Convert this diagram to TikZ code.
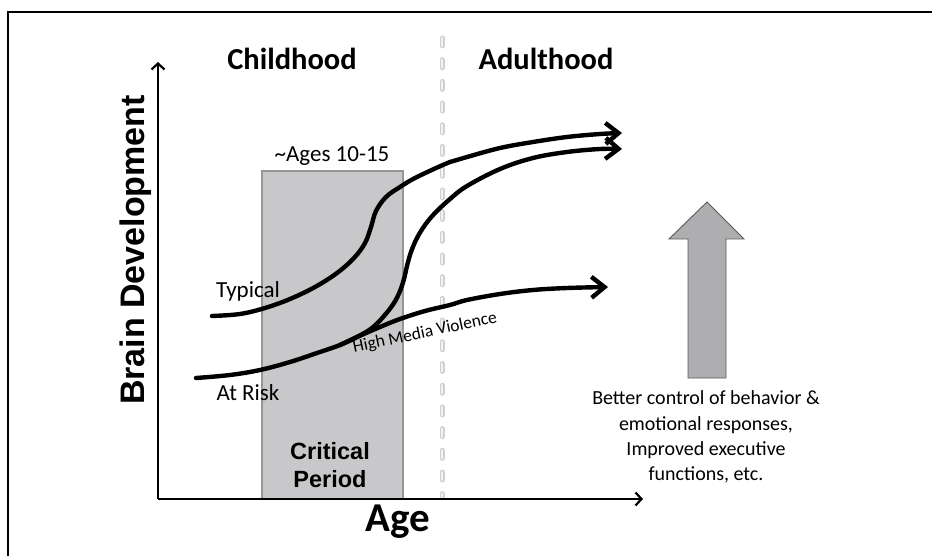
\documentclass[tikz,border=0pt]{standalone}
\usepackage{fontspec}
\setmainfont{Carlito}
\newfontfamily\arialf{Liberation Sans}
\usetikzlibrary{arrows.meta}
\definecolor{rectgray}{RGB}{200,200,203}
\definecolor{rectedge}{RGB}{150,150,152}
\definecolor{arrowgray}{RGB}{174,174,177}
\definecolor{dashgray}{RGB}{208,208,210}
\begin{document}
\begin{tikzpicture}[x=1pt,y=-1pt,
  curve/.style={line width=4.4pt, line cap=round,
    -{Straight Barb[length=13pt,width=21pt,line width=4.4pt]}},
  axis/.style={line width=2.2pt, -{Straight Barb[length=6pt,width=13pt,line width=2.2pt]}},
  lbl/.style={inner sep=0pt, font=\fontsize{23}{27}\selectfont},
  hdr/.style={inner sep=0pt, font=\fontsize{30.5}{36}\selectfont\bfseries}]
\useasboundingbox (0,0) rectangle (932,556);
\fill[white] (0,0) rectangle (932,556);
% frame
\draw[line width=2.4pt] (8,570) -- (8,12) -- (945,12);
% critical period box
\draw[fill=rectgray, draw=rectedge, line width=2pt] (262,171) rectangle (403,499);
% dashed divider
\coordinate (dtop) at (442,38);
\coordinate (dbot) at (442,497);
\draw[dashgray, line width=5pt, line cap=round, dash pattern=on 8pt off 13.7pt] (dtop) -- (dbot);
\draw[white!90!gray, line width=2.4pt, line cap=round, dash pattern=on 8pt off 13.7pt] (dtop) -- (dbot);
% axes
\coordinate (org) at (158,499);
\coordinate (ytip) at (158,62);
\coordinate (xtip) at (643,499);
\draw[axis] (org) -- (ytip);
\draw[axis] (org) -- (xtip);
% curves
\draw[curve] plot[smooth, tension=0.6] coordinates {(212,316) (240,314) (265,308) (290,299) (315,287) (337,273) (354,258) (365,243) (371,227) (376,211) (386,197) (400,187) (417,177) (450,162) (467,157) (500,148) (533,142) (567,137) (600,134) (622,133)};
\draw[curve] plot[smooth, tension=0.6] coordinates {(196,378) (230,375) (260,370) (290,362) (317,353) (340,345) (357,337) (372,328) (384,316) (394,303) (400,291) (404,279) (407,266) (411,252) (417,238) (425,225) (435,213) (450,199) (467,186) (500,169) (533,158) (567,152) (600,149) (622,149)};
\draw[curve] plot[smooth, tension=0.6] coordinates {(340,345) (357,337) (380,327) (400,319) (425,311) (450,305) (467,300) (500,294) (533,290) (567,288) (608,287)};
% gray arrow
\draw[fill=arrowgray, draw=black!65, line width=0.9pt, line join=miter]
  (707,202) -- (744,239) -- (726,239) -- (726,378) -- (688,378) -- (688,239) -- (669,239) -- cycle;
% texts
\node[hdr] (child) at (292,59) {Childhood};
\node[hdr] (adult) at (546,59) {Adulthood};
\node[inner sep=0pt, rotate=90, font=\fontsize{34}{40}\selectfont\arialf\bfseries] (ylab) at (136,250) {Brain Development};
\node[inner sep=0pt, font=\fontsize{41}{46}\selectfont\bfseries] (xlab) at (398,522) {Age};
\node[lbl] (ages) at (332,156) {\textasciitilde Ages 10-15};
\node[lbl] (typ) at (248,291) {Typical};
\node[lbl] (risk) at (248,393) {At Risk};
\node[inner sep=0pt, rotate=12, font=\fontsize{17.5}{20}\selectfont] (hmv) at (425,333) {High Media Violence};
\node[inner sep=0pt, align=center, font=\fontsize{23.5}{28}\selectfont\arialf\bfseries] (crit) at (330,465) {Critical\\Period};
\node[inner sep=0pt, align=center, font=\fontsize{20}{25.3}\selectfont] (better) at (706,437) {Better control of behavior \&\\emotional responses,\\Improved executive\\functions, etc.};
\end{tikzpicture}
\end{document}
